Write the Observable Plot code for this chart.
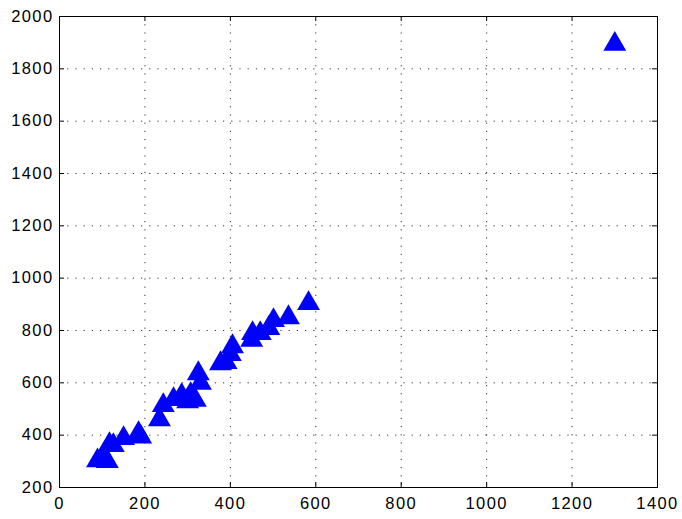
<!DOCTYPE html>
<html>
<head>
<meta charset="utf-8">
<script src="https://cdn.jsdelivr.net/npm/d3@7"></script>
<script src="https://cdn.jsdelivr.net/npm/@observablehq/plot@0.6"></script>
<style>
  html, body { margin: 0; padding: 0; background: #fff; }
  #chart svg { display: block; }
  #chart svg text { font-family: "Liberation Sans", Arial, sans-serif !important; font-size: 16.5px !important; letter-spacing: 1.4px; fill: #000; }
</style>
</head>
<body>
<div id="chart"></div>
<script>
// Data
const xValues = [89, 112, 103, 117, 126, 150, 185, 190, 234, 243, 267, 286, 307, 300, 318, 325, 330, 377, 390, 405, 400, 452, 450, 470, 501, 490, 536, 583, 1300];
const yValues = [314, 311, 334, 376, 372, 399, 418, 405, 471, 525, 548, 563, 567, 540, 545, 647, 610, 685, 690, 750, 720, 800, 775, 800, 850, 820, 861, 915, 1906];
const xTicks = [0, 200, 400, 600, 800, 1000, 1200, 1400];
const yTicks = [200, 400, 600, 800, 1000, 1200, 1400, 1600, 1800, 2000];

const points = xValues.map((x, i) => ({x, y: yValues[i]}));

const W = 682, H = 519;
const mL = 59, mR = 25, mT = 16, mB = 32;
const fw = W - mL - mR, fh = H - mT - mB;
const fmt = d3.format("d");

const chart = Plot.plot({
  width: W,
  height: H,
  marginLeft: mL,
  marginRight: mR,
  marginTop: mT,
  marginBottom: mB,
  style: {fontFamily: "Liberation Sans, Arial, sans-serif", fontSize: "16px", color: "#000", background: "#fff"},
  x: {domain: [0, 1400], ticks: xTicks, tickFormat: fmt},
  y: {domain: [200, 2000], ticks: yTicks, tickFormat: fmt},
  marks: [
    Plot.gridX(xTicks, {stroke: "#000", strokeOpacity: 0.8, strokeDasharray: "1.2,7"}),
    Plot.gridY(yTicks, {stroke: "#000", strokeOpacity: 0.8, strokeDasharray: "1.2,7"}),
    Plot.tickX(xTicks, {x: d => d, insetTop: fh - 5, stroke: "#000"}),
    Plot.tickX(xTicks, {x: d => d, insetBottom: fh - 5, stroke: "#000"}),
    Plot.tickY(yTicks, {y: d => d, insetRight: fw - 5, stroke: "#000"}),
    Plot.tickY(yTicks, {y: d => d, insetLeft: fw - 5, stroke: "#000"}),
    Plot.frame({stroke: "#000", strokeWidth: 1}),
    Plot.axisX(xTicks, {tickSize: 0, tickPadding: 10, label: null, tickFormat: fmt}),
    Plot.axisY(yTicks, {tickSize: 0, tickPadding: 6, label: null, tickFormat: fmt}),
    Plot.dot(points, {x: "x", y: "y", symbol: "triangle", r: 8.5, fill: "#0000ff", stroke: "none", dy: 3})
  ]
});
document.getElementById("chart").appendChild(chart);
</script>
</body>
</html>
